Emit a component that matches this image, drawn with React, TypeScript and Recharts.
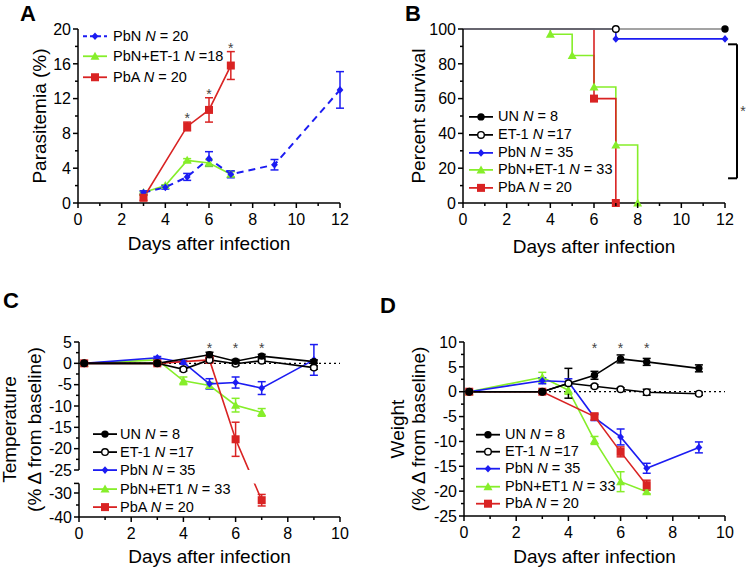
import React from 'react';
import {
  ComposedChart,
  Line,
  XAxis,
  YAxis,
  ErrorBar,
  ReferenceLine,
  ReferenceDot,
  ReferenceArea,
  Label,
} from 'recharts';

const FONT = '"Liberation Sans", Arial, Helvetica, sans-serif';
const BLACK = '#000000';
const GREY = '#858585';
const BLUE = '#1c1cf2';
const GREEN = '#86ee2a';
const RED = '#d92323';
const STAR = '#444444';

// A: parasitemia (%)
const parPbNDays = [3, 4, 5, 6, 7, 9, 12];
const parPbN = [1.2, 1.8, 3.0, 5.1, 3.3, 4.4, 13.0];
const parPbNErr = [0.2, 0.2, 0.4, 0.8, 0.4, 0.6, 2.1];
const parEtDays = [3, 4, 5, 6, 7];
const parEt = [1.2, 2.0, 4.9, 4.6, 3.3];
const parEtErr = [0.1, 0.1, 0.2, 0.4, 0.3];
const parPbADays = [3, 5, 6, 7];
const parPbA = [0.6, 8.8, 10.7, 15.8];
const parPbAErr = [0.3, 0.5, 1.4, 1.6];
const parStarDays = [5, 6, 7];
const parStarY = [10.1, 12.9, 18.2];

// B: percent survival
const survUNDays = [0, 12];
const survUN = [100, 100];
const survETDays = [0, 7];
const survET = [100, 100];
const survPbNDays = [0, 7, 12];
const survPbN = [100, 94.3, 94.3];
const survEtDays = [0, 4, 5, 6, 7, 8];
const survEt = [100, 97, 84.8, 66.7, 33.3, 0];
const survPbADays = [0, 6, 7];
const survPbA = [100, 60, 0];

// C: temperature (% change from baseline)
const tempUNDays = [0.2, 3, 5, 6, 7, 9];
const tempUN = [0, 0, 2.0, 0.5, 1.7, 0.4];
const tempUNErr = [0, 0.3, 0.6, 0.4, 0.4, 0.4];
const tempETDays = [0.2, 3, 4, 5, 6, 7, 9];
const tempET = [0, 0, -1.4, 0.8, -0.1, 0.6, -1.0];
const tempETErr = [0, 0.3, 0.4, 0.4, 0.4, 0.4, 0.4];
const tempPbNDays = [0.2, 3, 4, 5, 6, 7, 9];
const tempPbN = [0, 1.3, 0.2, -4.8, -4.5, -5.8, 0.8];
const tempPbNErr = [0, 0.3, 0.4, 1.2, 1.3, 1.5, 3.6];
const tempEtDays = [0.2, 3, 4, 5, 6, 7];
const tempEt = [0, 0.8, -4.1, -5.2, -9.8, -11.5];
const tempEtErr = [0, 0.3, 0.9, 0.7, 1.6, 0.9];
const tempPbADays = [0.2, 3, 5, 6, 7];
const tempPbA = [0, 0, 0.8, -17.8, -33.0];
const tempPbAErr = [0, 0.3, 0.4, 4.0, 2.4];
const tempStarDays = [5, 6, 7];
const tempStarY = [4.3, 4.3, 4.3];

// D: weight (% change from baseline)
const wtUNDays = [0.2, 3, 5, 6, 7, 9];
const wtUN = [0, 0, 3.3, 6.6, 6.0, 4.7];
const wtUNErr = [0, 0.2, 0.8, 0.8, 0.7, 0.7];
const wtETDays = [0.2, 3, 4, 5, 6, 7, 9];
const wtET = [0, 0, 1.7, 1.1, 0.5, -0.1, -0.4];
const wtETErr = [0, 0.2, 3.0, 0.3, 0.3, 0.6, 0.3];
const wtPbNDays = [0.2, 3, 4, 5, 6, 7, 9];
const wtPbN = [0, 2.2, 2.0, -5.2, -9.1, -15.4, -11.2];
const wtPbNErr = [0, 0.6, 0.6, 0.6, 1.6, 1.0, 1.1];
const wtEtDays = [0.2, 3, 4, 5, 6, 7];
const wtEt = [0, 2.9, 0.3, -9.8, -18.1, -20.1];
const wtEtErr = [0, 1.0, 0.8, 0.8, 2.0, 0.4];
const wtPbADays = [0.2, 3, 5, 6, 7];
const wtPbA = [0, 0, -5.0, -12.1, -18.8];
const wtPbAErr = [0, 0.2, 0.7, 1.0, 1.0];
const wtStarDays = [5, 6, 7];
const wtStarY = [9.4, 9.4, 9.4];

// tick values
const days12Major = [0, 2, 4, 6, 8, 10, 12];
const days12Minor = [1, 3, 5, 7, 9, 11];
const days10Major = [0, 2, 4, 6, 8, 10];
const days10Minor = [1, 3, 5, 7, 9];
const parMajor = [0, 4, 8, 12, 16, 20];
const parMinor = [2, 6, 10, 14, 18];
const survMajor = [0, 20, 40, 60, 80, 100];
const survMinor = [10, 30, 50, 70, 90];
const tempMajor = [5, 0, -5, -10, -15, -20, -25, -30, -40];
const tempMinor = [2.5, -2.5, -7.5, -12.5, -17.5, -22.5, -35];
const wtMajor = [10, 5, 0, -5, -10, -15, -20, -25];
const wtMinor = [7.5, 2.5, -2.5, -7.5, -12.5, -17.5, -22.5];

// broken temperature axis: -25..5 at full scale, gap, then -26..-40 compressed
const GAP = 3.14;
const RATIO = 0.5625;
const brk = (v: number) => (v >= -25 ? v : -25 - GAP - (-26 - v) * RATIO);

const TICK_FS = 16;
const TITLE_FS = 19;

type Shape = 'circle' | 'open' | 'diamond' | 'triangle' | 'square';
type Pt = { day: number; v: number; err: number | number[] };
type Series = {
  name: string;
  n: string;
  color: string;
  lineColor?: string;
  shape: Shape;
  dashed?: boolean;
  data: Pt[];
};
type TickSpec = { v: number; major: boolean; label?: string };

const pts = (days: number[], vals: number[], errs?: number[]): Pt[] =>
  days.map((d, i) => ({ day: d, v: vals[i], err: errs ? errs[i] : 0 }));

const ptsBroken = (days: number[], vals: number[], errs: number[]): Pt[] =>
  days.map((d, i) => {
    const v = vals[i];
    const e = errs[i];
    return { day: d, v: brk(v), err: [brk(v) - brk(v - e), brk(v + e) - brk(v)] };
  });

const buildTicks = (majors: number[], minors: number[], map = (v: number) => v): TickSpec[] => [
  ...majors.map((v) => ({ v: map(v), major: true, label: String(v) })),
  ...minors.map((v) => ({ v: map(v), major: false })),
];

const Marker = ({ shape, cx, cy, color }: { shape: Shape; cx: number; cy: number; color: string }) => {
  if (cx == null || cy == null) return <g />;
  switch (shape) {
    case 'circle':
      return <circle cx={cx} cy={cy} r={3.7} fill={color} />;
    case 'open':
      return <circle cx={cx} cy={cy} r={3.3} fill="#fff" stroke={color} strokeWidth={1.4} />;
    case 'diamond':
      return <path d={`M${cx},${cy - 3.8}L${cx + 3.4},${cy}L${cx},${cy + 3.8}L${cx - 3.4},${cy}Z`} fill={color} />;
    case 'triangle':
      return <path d={`M${cx},${cy - 4.5}L${cx + 4.5},${cy + 3.5}L${cx - 4.5},${cy + 3.5}Z`} fill={color} />;
    default:
      return <rect x={cx - 4} y={cy - 4} width={8} height={8} fill={color} />;
  }
};

const yTick = (specs: TickSpec[]) => (p: any) => {
  const s = specs.find((t) => Math.abs(t.v - p.payload.value) < 1e-6);
  if (!s) return <g />;
  const len = s.major ? 5 : 3;
  return (
    <g>
      <line x1={p.x - len} x2={p.x} y1={p.y} y2={p.y} stroke={BLACK} strokeWidth={1.5} />
      {s.label && (
        <text x={p.x - len - 2} y={p.y + 5.7} textAnchor="end" fontSize={TICK_FS} fontFamily={FONT} fill={BLACK}>
          {s.label}
        </text>
      )}
    </g>
  );
};

const xTick = (specs: TickSpec[]) => (p: any) => {
  const s = specs.find((t) => Math.abs(t.v - p.payload.value) < 1e-6);
  if (!s) return <g />;
  const len = s.major ? 5 : 3;
  return (
    <g>
      <line x1={p.x} x2={p.x} y1={p.y} y2={p.y + len} stroke={BLACK} strokeWidth={1.5} />
      {s.label && (
        <text x={p.x} y={p.y + 22} textAnchor="middle" fontSize={TICK_FS} fontFamily={FONT} fill={BLACK}>
          {s.label}
        </text>
      )}
    </g>
  );
};

const xTitle = (dy: number) => (props: any) => {
  const vb = props.viewBox;
  return (
    <text x={vb.x + vb.width / 2} y={vb.y + dy} textAnchor="middle" fontSize={TITLE_FS} fontFamily={FONT} fill={BLACK}>
      Days after infection
    </text>
  );
};

const yTitle = (lines: { text: string; x: number }[]) => (props: any) => {
  const vb = props.viewBox;
  const cy = vb.y + vb.height / 2;
  return (
    <g>
      {lines.map((l) => (
        <text
          key={l.text}
          x={l.x}
          y={cy}
          transform={`rotate(-90 ${l.x} ${cy})`}
          textAnchor="middle"
          fontSize={TITLE_FS}
          fontFamily={FONT}
          fill={BLACK}
        >
          {l.text}
        </text>
      ))}
    </g>
  );
};

const Star = (p: any) => (
  <text x={p.cx} y={p.cy + 8} textAnchor="middle" fontSize={14} fontFamily={FONT} fill={STAR}>
    *
  </text>
);

const renderLine = (s: Series, step = false) => (
  <Line
    key={s.name}
    data={s.data}
    dataKey="v"
    type={step ? 'stepAfter' : 'linear'}
    stroke={s.lineColor ?? s.color}
    strokeWidth={s.dashed ? 2 : 1.6}
    strokeDasharray={s.dashed ? '7 5' : undefined}
    dot={(p: any) =>
      step && p.index === 0 ? (
        <g key={p.index} />
      ) : (
        <Marker key={p.index} shape={s.shape} cx={p.cx} cy={p.cy} color={s.color} />
      )
    }
    activeDot={false}
    legendType="none"
    isAnimationActive={false}
  >
    {!step && <ErrorBar dataKey="err" direction="y" width={4} stroke={s.color} strokeWidth={1.5} />}
  </Line>
);

const LegendBox = ({
  items,
  left,
  top,
  rowH,
  gap,
}: {
  items: Series[];
  left: number;
  top: number;
  rowH: number;
  gap: number;
}) => (
  <div style={{ position: 'absolute', left, top, fontFamily: FONT, fontSize: 14.5, whiteSpace: 'nowrap' }}>
    {items.map((it) => (
      <div key={it.name} style={{ height: rowH, display: 'flex', alignItems: 'center' }}>
        <svg width={24} height={rowH} style={{ display: 'block' }}>
          <line
            x1={0}
            x2={24}
            y1={rowH / 2}
            y2={rowH / 2}
            stroke={it.shape === 'circle' || it.shape === 'open' ? BLACK : it.color}
            strokeWidth={1.8}
            strokeDasharray={it.dashed ? '4 3' : undefined}
          />
          <Marker shape={it.shape} cx={12} cy={rowH / 2} color={it.color} />
        </svg>
        <span style={{ marginLeft: gap, lineHeight: `${rowH}px` }}>
          {it.name} <i>N</i>
          {it.n}
        </span>
      </div>
    ))}
  </div>
);

const axisLine = { stroke: BLACK, strokeWidth: 1.5 };

// series
const parSeries: Series[] = [
  { name: 'PbN', n: ' = 20', color: BLUE, shape: 'diamond', dashed: true, data: pts(parPbNDays, parPbN, parPbNErr) },
  { name: 'PbN+ET-1', n: ' =18', color: GREEN, shape: 'triangle', data: pts(parEtDays, parEt, parEtErr) },
  { name: 'PbA', n: ' = 20', color: RED, shape: 'square', data: pts(parPbADays, parPbA, parPbAErr) },
];

const survSeries: Series[] = [
  { name: 'UN', n: ' = 8', color: BLACK, lineColor: GREY, shape: 'circle', data: pts(survUNDays, survUN) },
  { name: 'ET-1', n: ' =17', color: BLACK, shape: 'open', data: pts(survETDays, survET) },
  { name: 'PbN', n: ' = 35', color: BLUE, shape: 'diamond', data: pts(survPbNDays, survPbN) },
  { name: 'PbN+ET-1', n: ' = 33', color: GREEN, shape: 'triangle', data: pts(survEtDays, survEt) },
  { name: 'PbA', n: ' = 20', color: RED, shape: 'square', data: pts(survPbADays, survPbA) },
];

const tempSeries: Series[] = [
  { name: 'UN', n: ' = 8', color: BLACK, shape: 'circle', data: ptsBroken(tempUNDays, tempUN, tempUNErr) },
  { name: 'ET-1', n: ' =17', color: BLACK, shape: 'open', data: ptsBroken(tempETDays, tempET, tempETErr) },
  { name: 'PbN', n: ' = 35', color: BLUE, shape: 'diamond', data: ptsBroken(tempPbNDays, tempPbN, tempPbNErr) },
  { name: 'PbN+ET1', n: ' = 33', color: GREEN, shape: 'triangle', data: ptsBroken(tempEtDays, tempEt, tempEtErr) },
  { name: 'PbA', n: ' = 20', color: RED, shape: 'square', data: ptsBroken(tempPbADays, tempPbA, tempPbAErr) },
];

const wtSeries: Series[] = [
  { name: 'UN', n: ' = 8', color: BLACK, shape: 'circle', data: pts(wtUNDays, wtUN, wtUNErr) },
  { name: 'ET-1', n: ' =17', color: BLACK, shape: 'open', data: pts(wtETDays, wtET, wtETErr) },
  { name: 'PbN', n: ' = 35', color: BLUE, shape: 'diamond', data: pts(wtPbNDays, wtPbN, wtPbNErr) },
  { name: 'PbN+ET1', n: ' = 33', color: GREEN, shape: 'triangle', data: pts(wtEtDays, wtEt, wtEtErr) },
  { name: 'PbA', n: ' = 20', color: RED, shape: 'square', data: pts(wtPbADays, wtPbA, wtPbAErr) },
];

// drawing order (back to front)
const byName = (list: Series[], names: string[]) => names.map((n) => list.find((s) => s.name === n)!);

const x12Ticks = buildTicks(days12Major, days12Minor);
const x10Ticks = buildTicks(days10Major, days10Minor);
const parTicks = buildTicks(parMajor, parMinor);
const survTicks = buildTicks(survMajor, survMinor);
const tempTicks = [...buildTicks(tempMajor, tempMinor, brk), { v: brk(-26), major: true }];
const wtTicks = buildTicks(wtMajor, wtMinor);

const xAxisProps = (specs: TickSpec[], max: number, height: number) => ({
  dataKey: 'day',
  type: 'number' as const,
  domain: [0, max],
  ticks: specs.map((t) => t.v),
  interval: 0 as const,
  tickSize: 0,
  tickMargin: 0,
  tickLine: false,
  tick: xTick(specs),
  height,
});

const yAxisProps = (specs: TickSpec[], domain: number[], width: number) => ({
  type: 'number' as const,
  domain,
  ticks: specs.map((t) => t.v),
  interval: 0 as const,
  tickSize: 0,
  tickMargin: 0,
  tickLine: false,
  tick: yTick(specs),
  width,
});

const PanelA = () => (
  <ComposedChart width={370} height={280} margin={{ top: 29, right: 30, bottom: 0, left: 0 }}>
    <XAxis {...xAxisProps(x12Ticks, 12, 77)} axisLine={axisLine}>
      <Label content={xTitle(47)} />
    </XAxis>
    <YAxis {...yAxisProps(parTicks, [0, 20], 78)} axisLine={axisLine}>
      <Label content={yTitle([{ text: 'Parasitemia (%)', x: 46 }])} />
    </YAxis>
    {byName(parSeries, ['PbN+ET-1', 'PbN', 'PbA']).map((s) => renderLine(s))}
    {parStarDays.map((d, i) => (
      <ReferenceDot key={d} x={d} y={parStarY[i]} r={0} ifOverflow="visible" shape={Star} />
    ))}
  </ComposedChart>
);

const PanelB = () => (
  <ComposedChart width={377} height={280} margin={{ top: 29, right: 22, bottom: 0, left: 0 }}>
    <XAxis {...xAxisProps(x12Ticks, 12, 77)} axisLine={axisLine}>
      <Label content={xTitle(50)} />
    </XAxis>
    <YAxis {...yAxisProps(survTicks, [0, 100], 93)} axisLine={axisLine}>
      <Label content={yTitle([{ text: 'Percent survival', x: 55 }])} />
    </YAxis>
    {byName(survSeries, ['PbN+ET-1', 'PbA', 'PbN', 'ET-1', 'UN']).map((s) => renderLine(s, true))}
    <ReferenceLine segment={[{ x: 12.55, y: 91.2 }, { x: 12.55, y: 14.2 }]} stroke={BLACK} strokeWidth={2} ifOverflow="visible" />
    <ReferenceLine segment={[{ x: 12.14, y: 91.2 }, { x: 12.55, y: 91.2 }]} stroke={BLACK} strokeWidth={2} ifOverflow="visible" />
    <ReferenceLine segment={[{ x: 12.14, y: 14.2 }, { x: 12.55, y: 14.2 }]} stroke={BLACK} strokeWidth={2} ifOverflow="visible" />
    <ReferenceDot x={12.82} y={54.6} r={0} ifOverflow="visible" shape={Star} />
  </ComposedChart>
);

const PanelC = () => (
  <ComposedChart width={370} height={289} margin={{ top: 62, right: 30, bottom: 0, left: 0 }}>
    <XAxis {...xAxisProps(x10Ticks, 10, 52)} axisLine={axisLine}>
      <Label content={xTitle(46)} />
    </XAxis>
    <YAxis {...yAxisProps(tempTicks, [brk(-40), 5], 79)} axisLine={false}>
      <Label
        content={yTitle([
          { text: 'Temperature', x: 16 },
          { text: '(% \u0394 from baseline)', x: 41 },
        ])}
      />
    </YAxis>
    <ReferenceLine segment={[{ x: 0, y: 5 }, { x: 0, y: -25 }]} stroke={BLACK} strokeWidth={1.5} ifOverflow="visible" />
    <ReferenceLine segment={[{ x: 0, y: brk(-26) }, { x: 0, y: brk(-40) }]} stroke={BLACK} strokeWidth={1.5} ifOverflow="visible" />
    <ReferenceLine y={0} stroke={BLACK} strokeWidth={1.3} strokeDasharray="2 3" />
    {byName(tempSeries, ['PbN+ET1', 'PbN', 'PbA', 'ET-1', 'UN']).map((s) => renderLine(s))}
    {tempStarDays.map((d, i) => (
      <ReferenceDot key={d} x={d} y={tempStarY[i]} r={0} ifOverflow="visible" shape={Star} />
    ))}
    <ReferenceArea x1={6.2} x2={6.9} y1={brk(-26)} y2={-25} fill="#fff" fillOpacity={1} stroke="none" zIndex={1000} />
  </ComposedChart>
);

const PanelD = () => (
  <ComposedChart width={377} height={289} margin={{ top: 62, right: 22, bottom: 0, left: 0 }}>
    <XAxis {...xAxisProps(x10Ticks, 10, 53)} axisLine={axisLine}>
      <Label content={xTitle(47)} />
    </XAxis>
    <YAxis {...yAxisProps(wtTicks, [-25, 10], 94)} axisLine={axisLine}>
      <Label
        content={yTitle([
          { text: 'Weight', x: 34 },
          { text: '(% \u0394 from baseline)', x: 55 },
        ])}
      />
    </YAxis>
    <ReferenceLine y={0} stroke={BLACK} strokeWidth={1.3} strokeDasharray="2 3" />
    {byName(wtSeries, ['PbN+ET1', 'PbN', 'PbA', 'ET-1', 'UN']).map((s) => renderLine(s))}
    {wtStarDays.map((d, i) => (
      <ReferenceDot key={d} x={d} y={wtStarY[i]} r={0} ifOverflow="visible" shape={Star} />
    ))}
  </ComposedChart>
);

const PanelLetter = ({ x, y, text }: { x: number; y: number; text: string }) => (
  <div
    style={{
      position: 'absolute',
      left: x,
      top: y - 19,
      fontFamily: FONT,
      fontWeight: 'bold',
      fontSize: 22,
      lineHeight: '22px',
    }}
  >
    {text}
  </div>
);

export default function App() {
  return (
    <div style={{ position: 'absolute', left: 0, top: 0, width: 747, height: 569, background: '#fff', overflow: 'hidden' }}>
      <div style={{ position: 'absolute', left: 0, top: 0 }}>
        <PanelA />
      </div>
      <div style={{ position: 'absolute', left: 370, top: 0 }}>
        <PanelB />
      </div>
      <div style={{ position: 'absolute', left: 0, top: 280 }}>
        <PanelC />
      </div>
      <div style={{ position: 'absolute', left: 370, top: 280 }}>
        <PanelD />
      </div>
      <PanelLetter x={20} y={21.7} text="A" />
      <PanelLetter x={405} y={21.7} text="B" />
      <PanelLetter x={3} y={309} text="C" />
      <PanelLetter x={380} y={314} text="D" />
      <LegendBox items={parSeries} left={83} top={25.75} rowH={20.5} gap={6} />
      <LegendBox items={survSeries} left={469} top={108} rowH={17.75} gap={5} />
      <LegendBox items={tempSeries} left={93} top={425} rowH={18.2} gap={3} />
      <LegendBox items={wtSeries} left={476} top={425.6} rowH={17.4} gap={5} />
    </div>
  );
}
